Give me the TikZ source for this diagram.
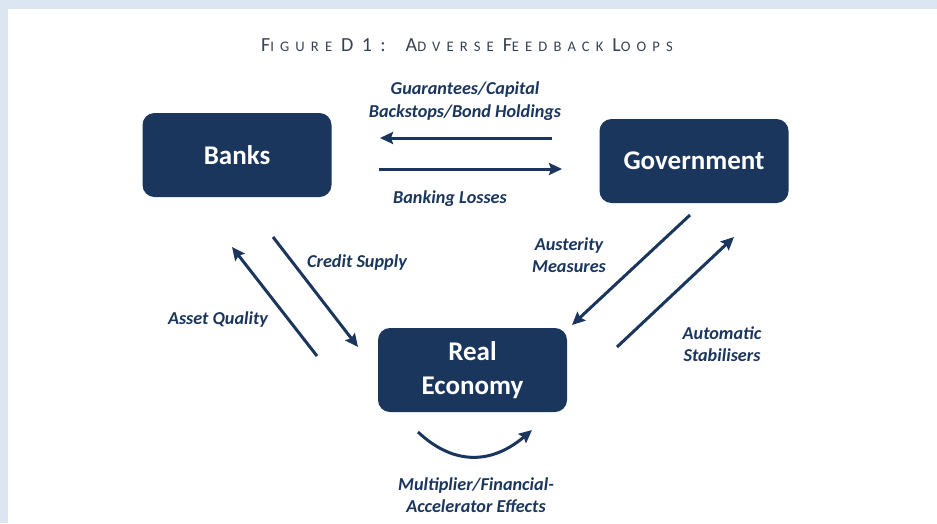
\documentclass[tikz,border=0pt]{standalone}
\usepackage{fontspec}
\setmainfont{Carlito}
\usetikzlibrary{arrows.meta}
\definecolor{navy}{RGB}{27,54,93}
\definecolor{framebg}{RGB}{220,230,242}
\definecolor{titlecol}{RGB}{55,66,82}
\newcommand{\bigsc}[1]{{\fontsize{20}{22}\selectfont #1}}
\newcommand{\smsc}[1]{{\fontsize{14.6}{16}\selectfont #1}}
\tikzset{
  box/.style={fill=navy, rounded corners=12pt, minimum width=189pt, minimum height=84pt,
    text=white, font=\fontsize{27}{34}\selectfont\bfseries, align=center, inner sep=0pt},
  lab/.style={text=navy, font=\fontsize{18.2}{22.5}\selectfont\bfseries\itshape, align=center, inner sep=0pt},
  arr/.style={draw=navy, line width=3pt, -{Stealth[length=13pt,width=12pt,inset=2pt]}},
}
\begin{document}
\begin{tikzpicture}[x=1pt,y=-1pt]
\fill[framebg] (0,0) rectangle (937,523);
\fill[white] (8,9) rectangle (937,523);
\useasboundingbox (0,0) rectangle (937,523);

\node[text=titlecol, inner sep=0pt, font=\addfontfeatures{LetterSpace=42}] (title) at (467,45)
  {\bigsc{F}\smsc{IGURE}\hspace{9pt}\bigsc{D1:}\hspace{20pt}\bigsc{A}\smsc{DVERSE}\hspace{9pt}\bigsc{F}\smsc{EEDBACK}\hspace{9pt}\bigsc{L}\smsc{OOPS}};

\node[box] (banks) at (237,155) {Banks};
\node[box] (gov) at (694,161) {Government};
\node[box] (real) at (472.5,370) {Real\\Economy};

\coordinate (g2b-s) at (552,138);
\coordinate (g2b-e) at (380,138);
\coordinate (b2g-s) at (379,169);
\coordinate (b2g-e) at (562,169);
\coordinate (cs-s) at (273,237);
\coordinate (cs-e) at (358,347);
\coordinate (aq-s) at (317,356);
\coordinate (aq-e) at (232,247);
\coordinate (au-s) at (690,215);
\coordinate (au-e) at (572,325);
\coordinate (st-s) at (617,347);
\coordinate (st-e) at (734,237);
\coordinate (mu-s) at (418,432);
\coordinate (mu-c1) at (453,465);
\coordinate (mu-c2) at (491,465);
\coordinate (mu-e) at (532,430);

\draw[arr] (g2b-s) -- (g2b-e);
\draw[arr] (b2g-s) -- (b2g-e);
\draw[arr] (cs-s) -- (cs-e);
\draw[arr] (aq-s) -- (aq-e);
\draw[arr] (au-s) -- (au-e);
\draw[arr] (st-s) -- (st-e);
\draw[arr] (mu-s) .. controls (mu-c1) and (mu-c2) .. (mu-e);

\node[lab] (lguar) at (465,101) {Guarantees/Capital\\Backstops/Bond Holdings};
\node[lab] (lbl) at (450,199) {Banking Losses};
\node[lab] (lcs) at (357,263) {Credit Supply};
\node[lab] (laq) at (218,320) {Asset Quality};
\node[lab] (lau) at (569,255) {Austerity\\Measures};
\node[lab] (lst) at (722,344) {Automatic\\Stabilisers};
\node[lab] (lmu) at (476,495) {Multiplier/Financial-\\Accelerator Effects};
\end{tikzpicture}
\end{document}
